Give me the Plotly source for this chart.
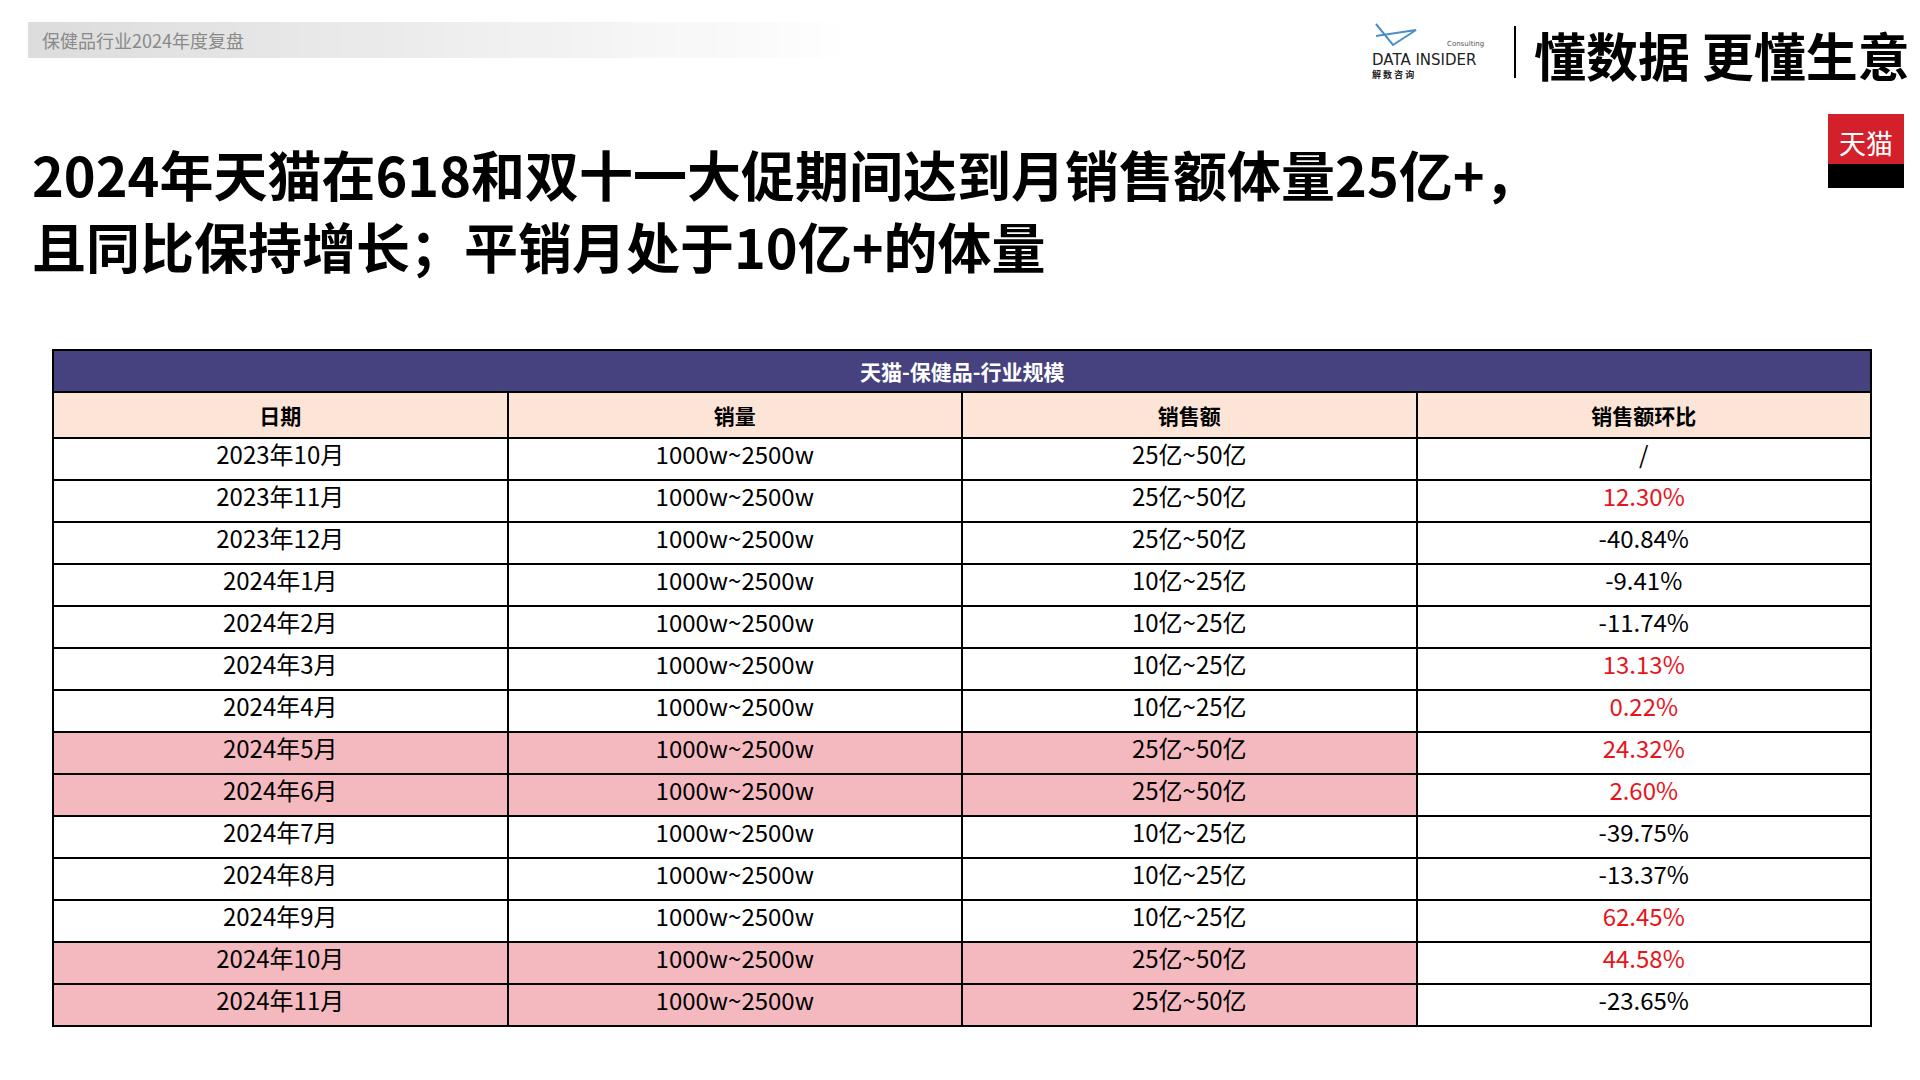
import plotly.graph_objects as go

# table data
table_title = "天猫-保健品-行业规模"
headers = ["日期", "销量", "销售额", "销售额环比"]
months = ["2023年10月", "2023年11月", "2023年12月", "2024年1月", "2024年2月", "2024年3月",
          "2024年4月", "2024年5月", "2024年6月", "2024年7月", "2024年8月", "2024年9月",
          "2024年10月", "2024年11月"]
volume = ["1000w~2500w"] * 14
sales = ["25亿~50亿", "25亿~50亿", "25亿~50亿", "10亿~25亿", "10亿~25亿", "10亿~25亿",
         "10亿~25亿", "25亿~50亿", "25亿~50亿", "10亿~25亿", "10亿~25亿", "10亿~25亿",
         "25亿~50亿", "25亿~50亿"]
mom = ["/", "12.30%", "-40.84%", "-9.41%", "-11.74%", "13.13%", "0.22%", "24.32%",
       "2.60%", "-39.75%", "-13.37%", "62.45%", "44.58%", "-23.65%"]
highlight = [False] * 7 + [True, True] + [False] * 3 + [True, True]
title_lines = ["2024年天猫在618和双十一大促期间达到月销售额体量25亿+，",
               "且同比保持增长；平销月处于10亿+的体量"]

W, H = 1920, 1080
FONT = "Noto Sans CJK SC"
X0, X1 = 45, 1863
ROW = 42
TOP = 342


def py(y):
    return 1 - y / H


fig = go.Figure()

row_fill = ["#F4B8BF" if h else "white" for h in highlight]
mom_color = ["#E8141C" if (v != "/" and not v.startswith("-")) else "black" for v in mom]
n_rows = len(months)

fig.add_trace(go.Table(
    domain=dict(x=[X0 / W, X1 / W], y=[0, py(TOP + ROW)]),
    columnwidth=[1, 1, 1, 1],
    header=dict(values=[f"<b>{h}</b>" for h in headers], fill=dict(color="#FCE4D6"), height=ROW,
                line=dict(color="black", width=2),
                font=dict(family=FONT, size=21, color="black"), align="center"),
    cells=dict(values=[months, volume, sales, mom],
               fill=dict(color=[row_fill, row_fill, row_fill, ["white"] * n_rows]),
               font=dict(family=FONT, size=24,
                         color=[["black"] * n_rows, ["black"] * n_rows, ["black"] * n_rows, mom_color]),
               line=dict(color="black", width=2), height=ROW, align="center"),
))

shapes = []
# gradient bar at the top left
n = 40
for i in range(n):
    g = int(0xDD + (0xFF - 0xDD) * i / (n - 1))
    shapes.append(dict(type="rect", xref="paper", yref="paper",
                       x0=(20 + i * 835 / n) / W, x1=(20 + (i + 1) * 835 / n + 1) / W,
                       y0=py(50), y1=py(14), line=dict(width=0),
                       fillcolor=f"rgb({g},{g},{g})", layer="below"))
# table title row
shapes.append(dict(type="rect", xref="paper", yref="paper", x0=X0 / W, x1=X1 / W,
                   y0=py(TOP + ROW), y1=py(TOP), fillcolor="#46427F",
                   line=dict(color="black", width=2)))
# separator next to logo
shapes.append(dict(type="line", xref="paper", yref="paper", x0=1507 / W, x1=1507 / W,
                   y0=py(70), y1=py(18), line=dict(color="black", width=2)))
# simple logo glyph
shapes.append(dict(type="path", xref="paper", yref="paper",
                   path=f"M {1368/W},{py(16)} L {1385/W},{py(37)} L {1408/W},{py(22)} "
                        f"L {1368/W},{py(28)}",
                   line=dict(color="#4A8FC8", width=2)))
# tmall icon
shapes.append(dict(type="rect", xref="paper", yref="paper", x0=1820 / W, x1=1896 / W,
                   y0=py(170), y1=py(106), fillcolor="#D4202A", line=dict(width=0)))
shapes.append(dict(type="rect", xref="paper", yref="paper", x0=1820 / W, x1=1896 / W,
                   y0=py(180), y1=py(156), fillcolor="black", line=dict(width=0)))

annotations = [
    dict(text="保健品行业2024年度复盘", x=32 / W, y=py(32), xanchor="left", yanchor="middle",
         font=dict(family=FONT, size=18, color="#8A8A8A")),
    dict(text=f"<b>{title_lines[0]}</b>", x=22 / W, y=py(165), xanchor="left", yanchor="middle",
         font=dict(family=FONT, size=54, color="black")),
    dict(text=f"<b>{title_lines[1]}</b>", x=22 / W, y=py(237), xanchor="left", yanchor="middle",
         font=dict(family=FONT, size=54, color="black")),
    dict(text=f"<b>{table_title}</b>", x=(X0 + X1) / 2 / W, y=py(TOP + ROW / 2),
         xanchor="center", yanchor="middle",
         font=dict(family=FONT, size=21, color="white")),
    dict(text="<b>懂数据 更懂生意</b>", x=1904 / W, y=py(46), xanchor="right", yanchor="middle",
         font=dict(family=FONT, size=52, color="black")),
    dict(text="DATA INSIDER", x=1362 / W, y=py(52), xanchor="left", yanchor="middle",
         font=dict(family="DejaVu Sans", size=15, color="#222")),
    dict(text="<b>解 数 咨 询</b>", x=1362 / W, y=py(67), xanchor="left", yanchor="middle",
         font=dict(family=FONT, size=9, color="#222")),
    dict(text="Consulting", x=1478 / W, y=py(36), xanchor="right", yanchor="middle",
         font=dict(family="DejaVu Sans", size=7, color="#555")),
    dict(text="天猫", x=1858 / W, y=py(134), xanchor="center", yanchor="middle",
         font=dict(family=FONT, size=27, color="white")),
]
for a in annotations:
    a.update(xref="paper", yref="paper", showarrow=False)

fig.update_layout(
    width=W, height=H, margin=dict(l=0, r=0, t=0, b=0),
    paper_bgcolor="white", plot_bgcolor="white",
    shapes=shapes, annotations=annotations, showlegend=False,
)

fig.write_html("out.html")
